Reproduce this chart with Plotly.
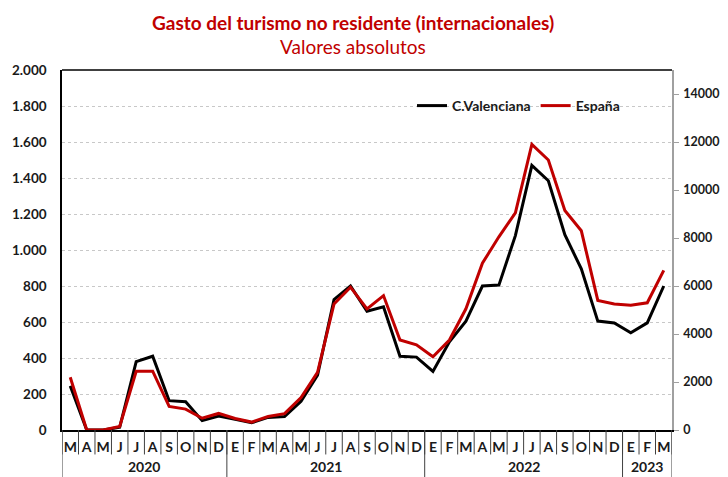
import plotly.graph_objects as go

months = ["M","A","M","J","J","A","S","O","N","D",
          "E","F","M","A","M","J","J","A","S","O","N","D",
          "E","F","M","A","M","J","J","A","S","O","N","D",
          "E","F","M"]
years = ["2020", "2021", "2022", "2023"]
year_counts = [10, 12, 12, 3]

c_valenciana = [245, 0, 0, 15, 380, 410, 163, 157, 52, 78,
                60, 40, 70, 75, 160, 305, 725, 800, 660, 685, 410, 405,
                325, 490, 605, 800, 805, 1080, 1470, 1385, 1085, 895, 605, 595,
                540, 595, 800]
espana = [2200, 0, 0, 150, 2450, 2450, 980, 870, 490, 690,
          480, 330, 560, 680, 1350, 2400, 5250, 5950, 5050, 5600, 3750, 3550,
          3050, 3750, 5050, 6950, 8050, 9050, 11900, 11250, 9150, 8300, 5400, 5250,
          5200, 5300, 6650]

left_ticks = list(range(0, 2001, 200))
right_ticks = list(range(0, 14001, 2000))

RED = "#C00000"
FONT = "Lato"
TXT = "#1a1a1a"
idx = list(range(len(months)))

fig = go.Figure()
fig.add_trace(go.Scatter(x=idx, y=c_valenciana, name="C.Valenciana", mode="lines",
                         line=dict(color="#000000", width=3), yaxis="y"))
fig.add_trace(go.Scatter(x=idx, y=espana, name="España", mode="lines",
                         line=dict(color=RED, width=3), yaxis="y2"))

shapes = []
n = len(months)
for i in range(n + 1):
    shapes.append(dict(type="line", xref="x", yref="paper", x0=i - 0.5, x1=i - 0.5,
                       y0=0, y1=-0.068, line=dict(color="#404040", width=1)))
b = -0.5
bounds = [b]
for c in year_counts:
    b += c
    bounds.append(b)
for xb in bounds:
    shapes.append(dict(type="line", xref="x", yref="paper", x0=xb, x1=xb,
                       y0=0, y1=-0.14, line=dict(color="#404040", width=1)))
shapes.append(dict(type="line", xref="paper", yref="paper", x0=0, x1=1, y0=1, y1=1,
                   line=dict(color="#000000", width=1.5)))

annotations = []
start = 0
for yr, c in zip(years, year_counts):
    annotations.append(dict(text=yr, xref="x", yref="paper", x=start + (c - 1) / 2,
                            y=-0.1, showarrow=False, yanchor="middle",
                            font=dict(family=FONT, size=14, color=TXT, weight="bold")))
    start += c

tx = (353 - 62) / 610
annotations.append(dict(text="<b>Gasto del turismo no residente (internacionales)</b>",
                        xref="paper", yref="paper", x=tx, y=1 + 48 / 360,
                        showarrow=False, yanchor="middle",
                        font=dict(family=FONT, size=19, color=RED)))
annotations.append(dict(text="Valores absolutos",
                        xref="paper", yref="paper", x=tx, y=1 + 24 / 360,
                        showarrow=False, yanchor="middle",
                        font=dict(family=FONT, size=19, color=RED)))

fig.update_layout(
    width=720, height=469,
    margin=dict(l=54, r=56, t=62, b=47, autoexpand=False),
    paper_bgcolor="white", plot_bgcolor="white",
    separators=",.",
    showlegend=True,
    legend=dict(orientation="h", x=(412 - 62) / 610, y=1 - 36 / 360, xanchor="left", yanchor="middle",
                bgcolor="rgba(0,0,0,0)", font=dict(family=FONT, size=14, color=TXT, weight="bold"),
                itemwidth=30, tracegroupgap=0),
    xaxis=dict(range=[-0.5, n - 0.5], tickmode="array", tickvals=idx, ticktext=months,
               showgrid=False, zeroline=False, showline=True, linecolor="#000000", linewidth=1.5,
               ticks="", ticklabelstandoff=3, automargin=False,
               tickfont=dict(family=FONT, size=14, color=TXT, weight="bold"),
               tickangle=0),
    yaxis=dict(range=[0, 2000], tickmode="array", tickvals=left_ticks, tickformat=",d",
               showgrid=True, gridcolor="#c8c8c8", griddash="dot", gridwidth=1,
               zeroline=False, showline=True, linecolor="#000000", linewidth=1.5,
               ticks="", ticklabelstandoff=11, automargin=False,
               tickfont=dict(family=FONT, size=13.5, color=TXT, weight="bold")),
    yaxis2=dict(range=[0, 15000], tickmode="array", tickvals=right_ticks, tickformat="d",
                overlaying="y", side="right", showgrid=False, zeroline=False,
                showline=True, linecolor="#a0a0a0", linewidth=1.5, automargin=False,
                ticks="outside", ticklen=5, tickcolor="#a0a0a0", ticklabelstandoff=2,
                tickfont=dict(family=FONT, size=12.5, color=TXT, weight="bold")),
    shapes=shapes,
    annotations=annotations,
)

fig.write_html("out.html")
